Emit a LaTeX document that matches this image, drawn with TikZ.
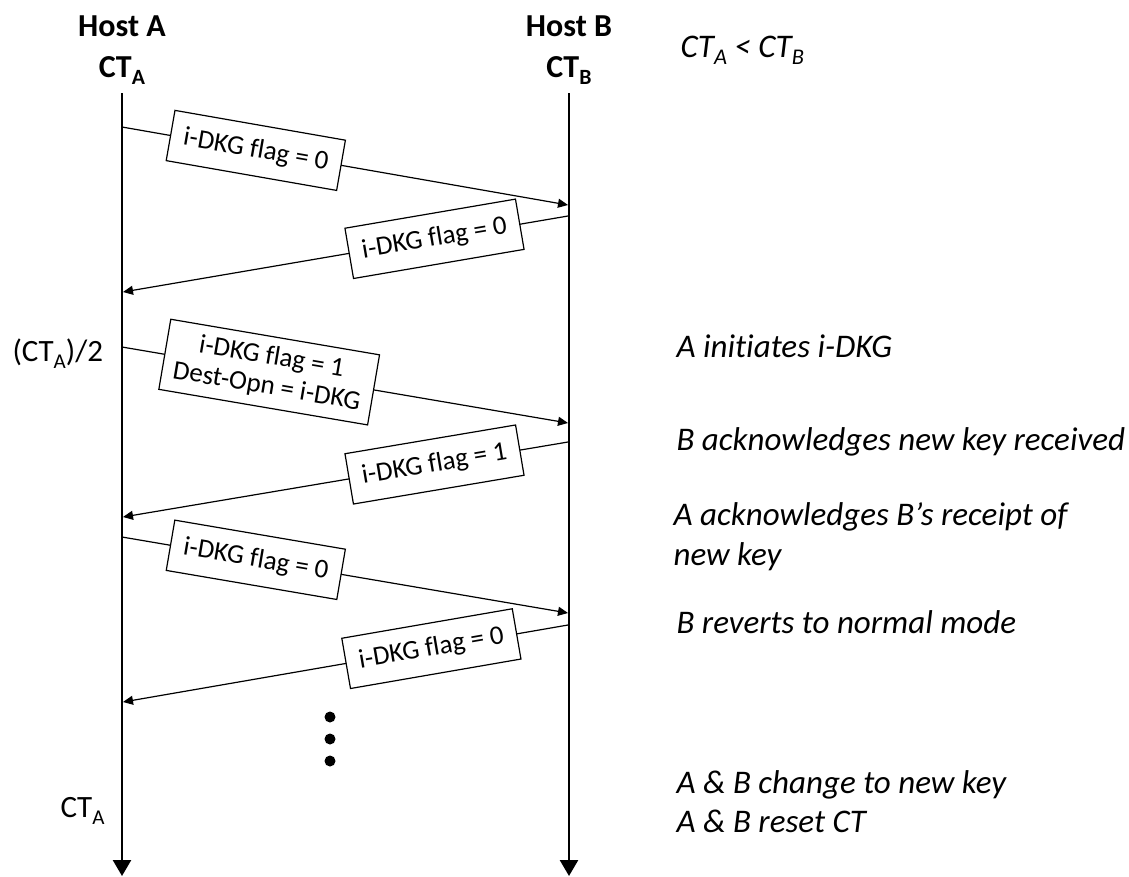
\documentclass[tikz,border=0pt]{standalone}
\usepackage{fontspec}
\setmainfont{Carlito}[Ligatures=NoCommon]
\usepackage{graphicx}
\usetikzlibrary{arrows.meta}
% lowered, smaller index letter (CT_A, CT_B)
\newcommand\lowidx[1]{\raisebox{-0.24em}{\scalebox{0.68}{#1}}}

\begin{document}
\begin{tikzpicture}[x=1pt,y=-1pt,
  head/.style={font=\fontsize{32}{38}\selectfont\bfseries, anchor=base},
  side/.style={font=\fontsize{33}{40}\selectfont\itshape, anchor=base west},
  tick/.style={font=\fontsize{31}{36}\selectfont, anchor=base west},
  life/.style={line width=2.6pt, -{Triangle[width=18pt,length=16pt]}},
  msg/.style={line width=1.2pt, -{Triangle[width=9pt,length=10pt]}},
  flagbox/.style={draw, line width=1.2pt, fill=white, sloped,
    font=\fontsize{27}{30}\selectfont, align=center,
    minimum width=173pt, minimum height=51pt, inner xsep=11pt, inner ysep=9pt},
  dot/.style={circle, fill, inner sep=0pt, minimum size=11pt}
]
\useasboundingbox (0,0) rectangle (1129,876);

% host headers
\node[head] (hostA) at (122,36) {Host A};
\node[head] (ctA)   at (122,77) {CT\lowidx{A}};
\node[head] (hostB) at (569,36) {Host B};
\node[head] (ctB)   at (569,77) {CT\lowidx{B}};

% lifelines
\coordinate (atop) at (122,93);
\coordinate (abot) at (122,876);
\coordinate (btop) at (569,93);
\coordinate (bbot) at (569,876);
\draw[life] (atop) -- (abot);
\draw[life] (btop) -- (bbot);

% message end points on the lifelines
\coordinate (a1) at (122,127); \coordinate (b1) at (568,205);
\coordinate (b2) at (568,216); \coordinate (a2) at (123,292);
\coordinate (a3) at (122,347); \coordinate (b3) at (568,423);
\coordinate (b4) at (568,442); \coordinate (a4) at (123,517);
\coordinate (a5) at (122,537); \coordinate (b5) at (568,613);
\coordinate (b6) at (568,625); \coordinate (a6) at (123,702);

% messages
\draw[msg] (a1) -- node[flagbox, pos=0.30] (f1) {i-DKG flag = 0} (b1);
\draw[msg] (b2) -- node[flagbox, pos=0.30] (f2) {i-DKG flag = 0} (a2);
\draw[msg] (a3) -- node[flagbox, pos=0.33] (f3) {i-DKG flag = 1\\Dest-Opn = i-DKG} (b3);
\draw[msg] (b4) -- node[flagbox, pos=0.30] (f4) {i-DKG flag = 1} (a4);
\draw[msg] (a5) -- node[flagbox, pos=0.30] (f5) {i-DKG flag = 0} (b5);
\draw[msg] (b6) -- node[flagbox, pos=0.307] (f6) {i-DKG flag = 0} (a6);

% continuation dots
\node[dot] (d1) at (330,717) {};
\node[dot] (d2) at (330,739) {};
\node[dot] (d3) at (330,761) {};

% time marks on host A
\node[tick] (half) at (9,361) {(CT\lowidx{A})/2};
\node[tick] (ctEnd) at (57,817) {CT\lowidx{A}};

% annotations
\node[side] (cond) at (677,57) {CT\lowidx{A} < CT\lowidx{B}};
\node[side] (n1)  at (673,357) {A initiates i-DKG};
\node[side] (n2)  at (673,450) {B acknowledges new key received};
\node[side] (n3)  at (670,525) {A acknowledges B’s receipt of};
\node[side] (n3b) at (670,565) {new key};
\node[side] (n4)  at (673,633) {B reverts to normal mode};
\node[side] (n5)  at (673,793) {A \& B change to new key};
\node[side] (n6)  at (673,832) {A \& B reset CT};
\end{tikzpicture}
\end{document}
